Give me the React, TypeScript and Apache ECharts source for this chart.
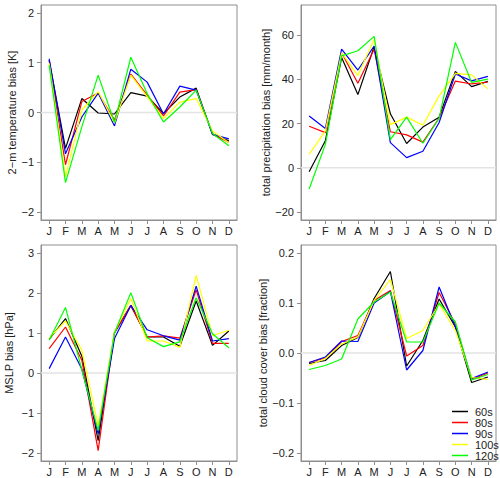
import React, { useEffect, useRef } from "react";
import * as echarts from "echarts";

const months = ["J", "F", "M", "A", "M", "J", "J", "A", "S", "O", "N", "D"];
const runNames = ["60s", "80s", "90s", "100s", "120s"];
const runColors = ["#000000", "#ff0000", "#0000ff", "#ffff00", "#00ff00"];

// 2-m temperature bias [K]
const temp60 = [1.05, -0.72, 0.28, -0.01, -0.03, 0.40, 0.33, -0.02, 0.31, 0.49, -0.44, -0.57];
const temp80 = [1.04, -1.05, 0.22, 0.39, -0.15, 0.77, 0.35, -0.07, 0.41, 0.46, -0.43, -0.60];
const temp90 = [1.08, -0.83, -0.09, 0.39, -0.27, 0.87, 0.61, -0.03, 0.53, 0.45, -0.44, -0.53];
const temp100 = [0.99, -1.29, 0.05, 0.42, -0.21, 0.75, 0.32, -0.12, 0.21, 0.28, -0.37, -0.61];
const temp120 = [0.95, -1.41, -0.29, 0.75, -0.20, 1.11, 0.38, -0.19, 0.11, 0.45, -0.42, -0.67];

// total precipitation bias [mm/month]
const prec60 = [-1.8, 12.2, 49.9, 33.1, 54.7, 24.4, 11.0, 18.4, 22.9, 43.6, 36.7, 39.1];
const prec80 = [18.8, 15.9, 52.0, 38.2, 53.6, 16.3, 14.9, 11.6, 22.5, 39.2, 37.9, 38.8];
const prec90 = [23.4, 17.8, 53.6, 44.2, 55.0, 11.4, 4.6, 7.5, 20.5, 42.4, 39.3, 41.3];
const prec100 = [6.1, 16.7, 52.0, 41.7, 58.1, 19.5, 22.9, 19.2, 32.5, 42.7, 42.0, 35.7];
const prec120 = [-9.6, 10.6, 50.6, 52.9, 59.4, 12.7, 22.9, 11.1, 22.4, 56.7, 38.6, 40.1];

// MSLP bias [hPa]
const mslp60 = [0.84, 1.36, 0.42, -1.69, 1.00, 1.69, 0.90, 0.90, 0.67, 1.80, 0.69, 1.05];
const mslp80 = [0.61, 1.15, 0.32, -1.94, 1.02, 1.69, 0.90, 0.93, 0.87, 2.08, 0.74, 0.74];
const mslp90 = [0.11, 0.90, 0.10, -1.52, 0.86, 1.69, 1.08, 0.93, 0.82, 2.17, 0.80, 0.86];
const mslp100 = [0.87, 1.30, 0.57, -1.32, 1.02, 1.86, 0.80, 0.80, 0.64, 2.44, 0.93, 1.07];
const mslp120 = [0.82, 1.64, 0.08, -1.44, 1.00, 2.01, 0.88, 0.66, 0.78, 1.88, 0.98, 0.63];

// total cloud cover bias [fraction]
const cloud60 = [-0.021, -0.015, 0.015, 0.031, 0.109, 0.163, -0.026, 0.025, 0.108, 0.052, -0.059, -0.048];
const cloud80 = [-0.019, -0.010, 0.023, 0.035, 0.105, 0.125, -0.006, 0.015, 0.121, 0.058, -0.053, -0.040];
const cloud90 = [-0.019, -0.008, 0.024, 0.023, 0.100, 0.123, -0.034, 0.005, 0.132, 0.052, -0.051, -0.038];
const cloud100 = [-0.025, -0.011, 0.018, 0.032, 0.105, 0.147, 0.029, 0.045, 0.098, 0.045, -0.049, -0.053];
const cloud120 = [-0.033, -0.025, -0.012, 0.068, 0.102, 0.122, 0.022, 0.022, 0.100, 0.062, -0.054, -0.043];

const panelTitles = [
  "2\u2212m temperature bias [K]",
  "total precipitation bias [mm/month]",
  "MSLP bias [hPa]",
  "total cloud cover bias [fraction]",
];
const panelTicks = [
  [-2, -1, 0, 1, 2],
  [-20, 0, 20, 40, 60],
  [-2, -1, 0, 1, 2, 3],
  [-0.2, -0.1, 0, 0.1, 0.2],
];
const panelLimits = [
  [-2.16, 2.16],
  [-23.6, 73.6],
  [-2.2, 3.2],
  [-0.216, 0.216],
];
const panelDecimals = [0, 0, 0, 1];
const panelData = [
  [temp60, temp80, temp90, temp100, temp120],
  [prec60, prec80, prec90, prec100, prec120],
  [mslp60, mslp80, mslp90, mslp100, mslp120],
  [cloud60, cloud80, cloud90, cloud100, cloud120],
];
// zero reference line, spanning the whole box (hidden 0..1 x axis)
const zeroLine = [[0, 0], [1, 0]];

const grids = [
  { left: 41, top: 5, width: 196, height: 215 },
  { left: 301, top: 5, width: 195, height: 215 },
  { left: 41, top: 245, width: 196, height: 216 },
  { left: 301, top: 245, width: 195, height: 216 },
];
const nameGaps = [24, 28, 27, 28];

const FONT = "'Liberation Sans', Arial, Helvetica, sans-serif";
const BOX = "#8e8e8e";

export default function App() {
  const ref = useRef<HTMLDivElement>(null);
  useEffect(() => {
    if (!ref.current) return;
    const chart = echarts.init(ref.current, null, { renderer: "svg" });

    const xAxes: any[] = grids.map((_, i) => ({
      type: "category",
      gridIndex: i,
      position: "bottom",
      data: months,
      boundaryGap: true,
      axisLine: { show: true, onZero: false, lineStyle: { color: BOX, width: 1 } },
      axisTick: { show: true, alignWithLabel: true, length: 4, lineStyle: { color: BOX } },
      axisLabel: { color: "#222", fontSize: 11, margin: 5, fontFamily: FONT, interval: 0 },
      splitLine: { show: false },
    }));
    grids.forEach((_, i) => {
      xAxes.push({
        type: "value",
        gridIndex: i,
        position: "top",
        min: 0,
        max: 1,
        show: false,
        axisLine: { show: false, onZero: false },
        axisTick: { show: false },
        axisLabel: { show: false },
        splitLine: { show: false },
      });
    });

    const yAxes = grids.map((_, i) => ({
      type: "value",
      gridIndex: i,
      position: "left",
      min: panelLimits[i][0],
      max: panelLimits[i][1],
      name: panelTitles[i],
      nameLocation: "middle",
      nameGap: nameGaps[i],
      nameTextStyle: { color: "#222", fontSize: 11, fontFamily: FONT },
      axisLine: { show: true, onZero: false, lineStyle: { color: BOX, width: 1 } },
      axisTick: {
        show: true,
        length: 4,
        lineStyle: { color: BOX },
        customValues: panelTicks[i],
      },
      axisLabel: {
        color: "#222",
        fontSize: 11,
        margin: 7,
        fontFamily: FONT,
        customValues: panelTicks[i],
        formatter: (v: number) => v.toFixed(panelDecimals[i]).replace("-", "\u2212"),
      },
      splitLine: { show: false },
    }));

    const series: any[] = [];
    grids.forEach((_, p) => {
      series.push({
        type: "line",
        xAxisIndex: 4 + p,
        yAxisIndex: p,
        data: zeroLine,
        symbol: "none",
        silent: true,
        z: 1,
        lineStyle: { color: "#e3e3e3", width: 1.6, type: "solid" },
        emphasis: { disabled: true },
        tooltip: { show: false },
      });
      panelData[p].forEach((vals, r) => {
        series.push({
          type: "line",
          name: runNames[r],
          xAxisIndex: p,
          yAxisIndex: p,
          data: vals,
          symbol: "none",
          showSymbol: false,
          z: 2 + r,
          lineStyle: { color: runColors[r], width: 1.2 },
          itemStyle: { color: runColors[r] },
        });
      });
    });

    chart.setOption({
      animation: false,
      textStyle: { fontFamily: FONT },
      grid: grids.map((g) => ({ ...g, show: true, borderColor: BOX, borderWidth: 1, backgroundColor: "transparent" })),
      xAxis: xAxes,
      yAxis: yAxes,
      legend: {
        data: runNames.map((n) => ({ name: n, icon: "rect" })),
        orient: "vertical",
        left: 447,
        top: 401,
        itemWidth: 16,
        itemHeight: 1.5,
        itemGap: 0,
        textStyle: { color: "#222", fontSize: 11, lineHeight: 11, fontFamily: FONT, padding: [0, 0, 0, 2] },
        selectedMode: false,
      },
      series,
    });

    return () => chart.dispose();
  }, []);

  return (
    <div
      ref={ref}
      style={{ position: "absolute", left: 0, top: 0, width: 500, height: 478, background: "#fff" }}
    />
  );
}
